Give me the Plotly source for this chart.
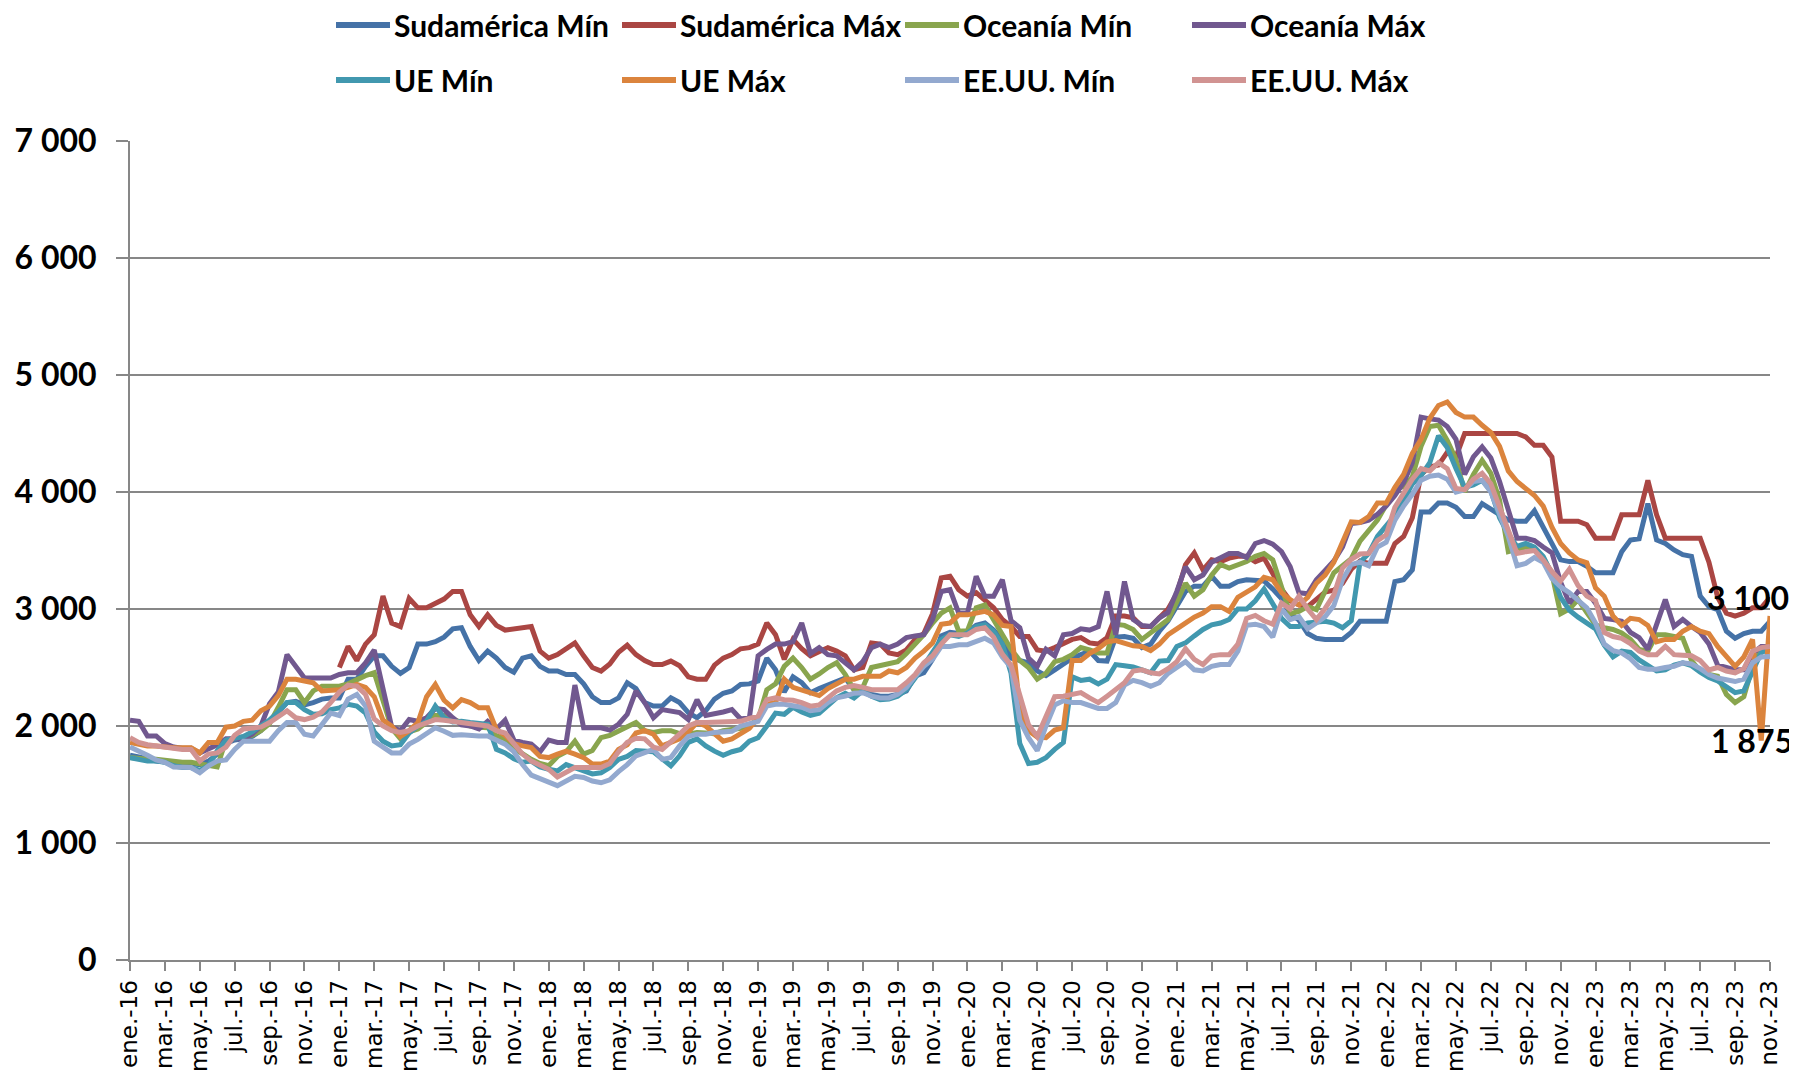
import plotly.graph_objects as go

# Semi-monthly periods from ene.-16 (index 0) to nov.-23 (index 188); ticks every 2 months
tick_labels = [f"{m}-{y}" for y in range(16, 24) for m in ["ene.", "mar.", "may.", "jul.", "sep.", "nov."]]
tick_positions = [4 * k for k in range(len(tick_labels))]

sa_min = [1750,1740,1720,1700,1690,1680,1680,1680,1670,1700,1760,1850,1880,1890,1910,1960,2050,2120,2200,2210,2180,2200,2230,2240,
          2240,2400,2400,2510,2600,2600,2510,2450,
          2500,2700,2700,2720,2760,2830,2840,2680,2560,2640,2580,2500,2460,2580,2600,2510,2470,2470,2440,2440,2360,2250,2200,2200,2240,2370,2320,2200,2170,2170,2240,
          2200,2115,2070,2130,2230,2280,2300,2355,2360,2385,2580,2480,2290,2420,2370,2285,2320,2350,2390,2410,2310,2310,2270,2255,2255,2270,2300,2425,2455,2570,2770,
          2800,2790,2800,2860,2880,2820,2740,2580,2560,2540,2470,2430,2480,2530,2580,2610,2640,2560,2555,2760,2765,2750,2670,2700,2810,2900,3020,3150,3195,3195,3280,
          3195,3195,3235,3250,3250,3240,3170,3090,2960,2905,2790,2750,2740,2740,2740,2800,2895,2895,2895,2895,3235,3250,3335,3830,3830,3905,3905,3870,3790,3790,3900,
          3850,3800,3760,3750,3750,3840,3705,3550,3420,3405,3405,3365,3310,3310,3310,3490,3590,3600,3900,3590,3560,3505,3465,3450,3110,3020,2995,2810,2750,2790,2810,2810,2895]

sa_max = [None]*24 + [2500,2680,2560,2700,2780,3110,2880,2850,
          3090,3010,3010,3050,3085,3150,3150,2950,2850,2950,2860,2820,2830,2850,2850,2640,2580,2610,2660,2710,2600,2500,2470,2530,2630,2690,2610,2560,2525,2525,2555,
          2515,2420,2400,2400,2520,2580,2610,2660,2670,2700,2880,2780,2570,2740,2660,2600,2640,2670,2640,2600,2480,2500,2710,2700,2625,2610,2650,2740,2790,2960,3265,
          3280,3165,3110,3140,3080,3010,2910,2850,2765,2765,2650,2640,2670,2710,2740,2755,2710,2700,2755,2940,2940,2925,2850,2850,2925,3000,3130,3380,3480,3335,3420,
          3405,3435,3450,3450,3405,3435,3300,3170,3070,3035,3020,3080,3145,3160,3220,3340,3410,3390,3390,3390,3560,3620,3780,4150,4215,4230,4340,4300,4500,4500,4500,
          4500,4500,4500,4500,4470,4400,4400,4300,3750,3750,3750,3720,3605,3605,3605,3805,3805,3805,4100,3805,3605,3605,3605,3605,3605,3400,3100,2965,2940,2965,3010,3010,3100]

oc_min = [1730,1720,1715,1715,1705,1690,1690,1690,1680,1670,1650,1880,1890,1900,1920,1960,2020,2160,2310,2310,2200,2300,2340,2340,2340,2360,2400,2430,2455,2200,1980,1890,
          1950,1975,2030,2090,2090,2060,2030,2000,1990,1985,1915,1890,1810,1760,1715,1680,1660,1740,1780,1870,1760,1790,1900,1920,1960,2000,2030,1960,1945,1960,1960,
          1935,1930,1945,1945,1935,1960,1970,1980,2010,2055,2310,2360,2510,2580,2500,2400,2445,2500,2540,2440,2310,2330,2500,2515,2530,2550,2620,2700,2780,2880,2965,
          3010,2810,2815,3010,3035,2910,2765,2655,2560,2500,2400,2450,2550,2570,2610,2670,2650,2625,2625,2870,2860,2825,2740,2795,2850,2910,3060,3220,3110,3165,3290,
          3380,3350,3380,3405,3450,3475,3420,3200,2960,2980,3020,2995,3150,3310,3370,3430,3580,3670,3760,3890,4030,4045,4130,4390,4560,4570,4440,4280,4000,4150,4270,
          4160,3930,3490,3505,3530,3520,3440,3300,2960,3000,3080,2970,2865,2840,2825,2795,2740,2655,2640,2780,2780,2765,2750,2560,2470,2440,2425,2270,2200,2250,2510,2655,2655]

oc_max = [2050,2040,1915,1915,1850,1820,1810,1810,1770,1800,1840,1890,1890,1890,1930,2000,2190,2290,2610,2510,2410,2410,2410,2410,2440,2455,2455,2540,2650,2300,1990,1960,
          2055,2040,2070,2150,2140,2070,2010,2000,1975,2040,1975,2050,1880,1860,1845,1780,1880,1860,1860,2350,1985,1985,1985,1965,2015,2100,2300,2200,2070,2140,2130,
          2115,2055,2225,2090,2100,2120,2140,2060,2070,2600,2655,2700,2700,2720,2880,2620,2670,2610,2600,2545,2480,2550,2670,2700,2670,2700,2755,2770,2780,2910,3150,
          3165,2965,2965,3280,3110,3110,3250,2900,2840,2580,2510,2655,2600,2780,2790,2830,2820,2850,3150,2780,3235,2910,2860,2850,2925,2970,3150,3360,3250,3290,3400,
          3435,3475,3475,3440,3560,3585,3555,3490,3360,3140,3130,3250,3330,3410,3530,3730,3740,3760,3810,3880,3970,4080,4250,4640,4625,4615,4560,4450,4150,4300,4385,
          4290,4090,3860,3605,3605,3585,3530,3480,3230,3050,3150,3150,3050,2920,2910,2895,2800,2755,2655,2880,3080,2850,2910,2850,2800,2700,2520,2500,2480,2480,2620,2680,2680]

ue_min = [1730,1710,1700,1700,1690,1660,1645,1645,1620,1660,1790,1880,1890,1910,1950,2000,2050,2120,2200,2200,2140,2100,2105,2140,2155,2185,2170,2110,1950,1870,1830,1840,
          1940,2000,2040,2170,2070,2035,2040,2030,2020,2015,1800,1770,1720,1690,1700,1650,1630,1615,1670,1645,1615,1590,1600,1645,1715,1740,1790,1790,1780,1720,1660,
          1745,1860,1890,1830,1785,1750,1780,1800,1870,1900,2000,2110,2100,2160,2120,2090,2110,2170,2240,2280,2240,2300,2255,2225,2230,2255,2310,2410,2520,2620,2740,
          2780,2765,2795,2850,2865,2810,2700,2450,1850,1680,1690,1730,1800,1860,2420,2390,2400,2360,2400,2525,2515,2505,2480,2455,2555,2560,2680,2710,2770,2825,2865,
          2880,2910,3000,3000,3070,3170,3050,2920,2850,2850,2880,2885,2895,2880,2840,2900,3400,3475,3620,3710,3800,3930,4070,4140,4250,4480,4380,4200,4040,4060,4100,
          4010,3780,3640,3535,3560,3530,3450,3300,3100,2990,2930,2885,2830,2690,2590,2640,2630,2565,2520,2470,2480,2520,2540,2515,2460,2415,2385,2330,2285,2300,2460,2630,2655]

ue_max = [1860,1840,1830,1830,1820,1815,1815,1815,1770,1860,1860,1990,2000,2040,2050,2130,2170,2260,2400,2400,2385,2370,2300,2300,2310,2330,2355,2330,2250,2050,2000,1910,
          1960,2030,2250,2355,2220,2155,2225,2200,2155,2155,1970,1920,1850,1830,1815,1740,1730,1760,1785,1760,1730,1675,1675,1700,1800,1840,1940,1960,1930,1830,1860,
          1890,1950,2030,2000,1930,1870,1890,1930,1980,2070,2185,2200,2400,2330,2310,2285,2260,2320,2360,2400,2400,2425,2425,2425,2470,2455,2500,2580,2640,2710,2870,
          2880,2950,2950,2965,2980,2950,2860,2850,2150,1960,1905,1900,1965,1985,2560,2560,2620,2660,2720,2730,2705,2685,2680,2645,2700,2780,2830,2880,2930,2965,3020,
          3020,2980,3100,3140,3190,3270,3250,3140,3080,3035,3100,3220,3290,3400,3560,3745,3740,3790,3905,3905,4040,4150,4330,4450,4630,4740,4770,4680,4640,4640,4570,
          4510,4390,4180,4090,4035,3970,3880,3700,3560,3480,3420,3395,3180,3110,2940,2860,2920,2910,2860,2720,2740,2740,2810,2850,2810,2790,2680,2600,2510,2590,2740,1875,2940]

us_min = [1820,1790,1750,1710,1690,1650,1645,1645,1600,1660,1700,1710,1800,1870,1870,1870,1870,1960,2030,2030,1930,1915,2020,2110,2090,2230,2270,2170,1870,1815,1770,1770,
          1845,1885,1930,1985,1955,1920,1925,1915,1915,1915,1885,1845,1780,1670,1580,1545,1520,1490,1530,1570,1560,1530,1515,1540,1610,1670,1745,1770,1800,1715,1730,
          1830,1910,1930,1930,1945,1945,1955,2000,2015,2040,2170,2185,2185,2170,2160,2130,2140,2200,2240,2255,2280,2285,2255,2240,2240,2270,2330,2425,2510,2570,2680,
          2680,2695,2695,2725,2750,2710,2590,2500,2050,1900,1790,2000,2180,2215,2200,2200,2170,2150,2150,2200,2350,2390,2370,2340,2370,2450,2500,2550,2480,2470,2510,
          2525,2525,2640,2860,2870,2850,2760,3000,2910,2935,2830,2880,2935,3030,3250,3380,3400,3370,3530,3570,3760,3880,3980,4100,4135,4145,4110,4000,4020,4090,4100,
          4000,3810,3620,3370,3390,3440,3400,3260,3190,3140,3080,3010,2880,2700,2645,2625,2575,2500,2485,2485,2500,2510,2540,2530,2490,2440,2410,2400,2380,2400,2540,2590,2595]

us_max = [1900,1860,1840,1830,1820,1800,1800,1800,1700,1760,1770,1820,1920,1975,1985,1990,2030,2080,2130,2070,2055,2075,2120,2200,2290,2350,2340,2270,2060,2000,1960,1945,
          1960,2000,2030,2055,2050,2040,2040,2030,2020,2000,1960,1940,1850,1760,1700,1660,1630,1565,1600,1645,1645,1645,1645,1680,1780,1860,1895,1890,1820,1800,1860,
          1930,2000,2030,2030,2030,2030,2030,2040,2065,2085,2225,2240,2225,2220,2200,2170,2180,2240,2300,2330,2345,2330,2310,2310,2310,2310,2370,2440,2540,2600,2700,
          2780,2780,2780,2825,2840,2760,2615,2520,2250,2010,1910,2080,2250,2255,2270,2285,2240,2200,2255,2310,2370,2470,2480,2455,2445,2490,2550,2660,2570,2525,2600,
          2610,2610,2700,2920,2945,2900,2870,3050,3000,3110,3000,2910,3005,3120,3350,3425,3470,3475,3585,3635,3870,3990,4110,4200,4180,4250,4200,4030,4020,4110,4160,
          4070,3870,3650,3475,3490,3500,3420,3320,3240,3340,3200,3110,3070,2800,2765,2750,2705,2640,2610,2610,2680,2610,2605,2600,2560,2480,2500,2470,2455,2490,2640,2670,2680]

series_names = ["Sudamérica Mín", "Sudamérica Máx", "Oceanía Mín", "Oceanía Máx",
                "UE Mín", "UE Máx", "EE.UU. Mín", "EE.UU. Máx"]
series_values = [sa_min, sa_max, oc_min, oc_max, ue_min, ue_max, us_min, us_max]
series_colors = ["#4572A7", "#AA4643", "#89A54E", "#71588F",
                 "#4198AF", "#DB843D", "#93A9CF", "#D19392"]

for v in series_values:
    assert len(v) == 189, len(v)

y_ticks = [0, 1000, 2000, 3000, 4000, 5000, 6000, 7000]
y_tick_text = ["0", "1 000", "2 000", "3 000", "4 000", "5 000", "6 000", "7 000"]

fig = go.Figure()
for name, vals, col in zip(series_names, series_values, series_colors):
    fig.add_trace(go.Scatter(x=list(range(len(vals))), y=vals, mode="lines", name=name,
                             line=dict(color=col, width=5), showlegend=False,
                             hoverinfo="skip"))

# The page body adds an 8px offset; figure is sized so that the plot lands where the reference has it.
OFF = 8
W, H = 1797 - OFF, 1074 - OFF
L, T = 130 - OFF, 141 - OFF
PW, PH = 1640, 819
R, B = W - L - PW, H - T - PH

def px(x_page):
    return (x_page - OFF - L) / PW
def py(y_page):
    return (T + PH - (y_page - OFF)) / PH

legend_cols = [336, 622, 905, 1192]
legend_rows = [25, 80]
shapes = []
annotations = []
for k, (name, col) in enumerate(zip(series_names, series_colors)):
    r, c = divmod(k, 4)
    x0 = legend_cols[c]
    yy = legend_rows[r]
    shapes.append(dict(type="line", xref="paper", yref="paper",
                       x0=px(x0), x1=px(x0 + 54), y0=py(yy), y1=py(yy),
                       line=dict(color=col, width=6)))
    annotations.append(dict(xref="paper", yref="paper", x=px(x0 + 56), y=py(yy),
                            text=name, showarrow=False, xanchor="left", yanchor="middle",
                            font=dict(family="Lato", size=30, color="black", weight="bold")))

# Data labels
annotations.append(dict(x=188, y=sa_max[188], xref="x", yref="y", text="3 100", showarrow=False,
                        xshift=-22, font=dict(family="Lato", size=32, color="black", weight="bold")))
annotations.append(dict(x=187, y=ue_max[187], xref="x", yref="y", text="1 875", showarrow=False,
                        xshift=-9, font=dict(family="Lato", size=32, color="black", weight="bold")))

axis_gray = "#878787"
fig.update_layout(
    width=W, height=H,
    margin=dict(l=L, r=R, t=T, b=B, pad=0, autoexpand=False),
    paper_bgcolor="white", plot_bgcolor="white",
    shapes=shapes, annotations=annotations,
    xaxis=dict(range=[0, 188], tickmode="array", tickvals=tick_positions, ticktext=tick_labels,
               tickangle=-90, ticks="outside", ticklen=9, tickwidth=2, tickcolor=axis_gray,
               showline=True, linecolor=axis_gray, linewidth=2, showgrid=False, zeroline=False,
               automargin=False,
               tickfont=dict(family="DejaVu Sans", size=23, color="black")),
    yaxis=dict(range=[0, 7000], tickmode="array", tickvals=y_ticks, ticktext=y_tick_text,
               ticks="outside", ticklen=12, tickwidth=2, tickcolor=axis_gray,
               showline=True, linecolor=axis_gray, linewidth=2,
               showgrid=True, gridcolor=axis_gray, gridwidth=2, zeroline=False,
               automargin=False, ticklabelstandoff=13,
               tickfont=dict(family="Lato", size=32, color="black", weight="bold")),
)

fig.write_html("out.html")
